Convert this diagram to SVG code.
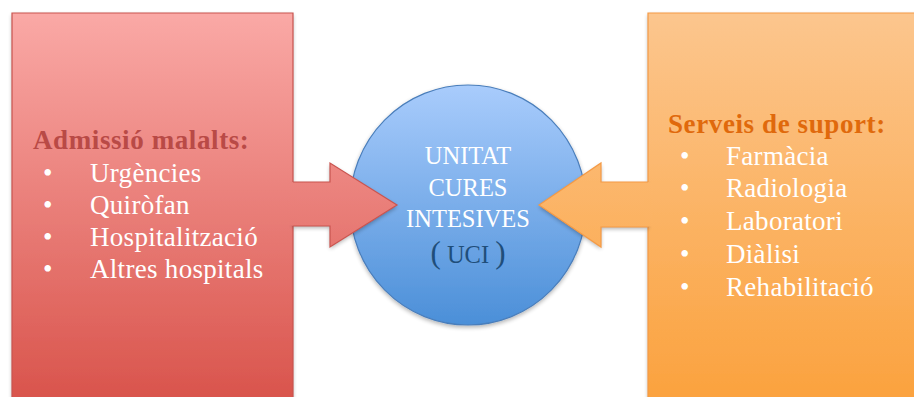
<svg xmlns="http://www.w3.org/2000/svg" width="914" height="397" viewBox="0 0 914 397">
<defs>
<linearGradient id="gRed" gradientUnits="userSpaceOnUse" x1="0" y1="12" x2="0" y2="400">
<stop offset="0" stop-color="#faa9a6"/><stop offset="1" stop-color="#d9544c"/>
</linearGradient>
<linearGradient id="gOrange" gradientUnits="userSpaceOnUse" x1="0" y1="12" x2="0" y2="400">
<stop offset="0" stop-color="#fcc68e"/><stop offset="1" stop-color="#fba23e"/>
</linearGradient>
<linearGradient id="gBlue" x1="0" y1="0" x2="0" y2="1">
<stop offset="0" stop-color="#a9ccfc"/><stop offset="1" stop-color="#4b8fd8"/>
</linearGradient>
<filter id="sh" x="-20%" y="-20%" width="140%" height="140%">
<feGaussianBlur in="SourceAlpha" stdDeviation="2"/>
<feOffset dx="0" dy="2" result="b"/>
<feComponentTransfer><feFuncA type="linear" slope="0.3"/></feComponentTransfer>
<feMerge><feMergeNode/><feMergeNode in="SourceGraphic"/></feMerge>
</filter>
</defs>
<style>
.t{font-family:"Liberation Serif","Times New Roman",serif;fill:#ffffff;font-size:27px;letter-spacing:0.3px}
.h{font-family:"Liberation Serif","Times New Roman",serif;font-weight:bold;font-size:27px;letter-spacing:0.6px}
.c{font-family:"Liberation Serif","Times New Roman",serif;fill:#ffffff;font-size:24.5px;text-anchor:middle}
.p{font-size:31px}
</style>
<g id="node-admissio">
<rect x="12" y="13" width="281" height="390" fill="url(#gRed)" filter="url(#sh)"/>
<path d="M12,400 V13 H293 V182 M293,226 V400" fill="none" stroke="#c9544f" stroke-width="1.2"/>
<text class="h" x="33" y="149" fill="#b94a46">Admissió malalts:</text>
<g class="t">
<text x="43" y="182">•</text><text x="90" y="182">Urgències</text>
<text x="43" y="214">•</text><text x="90" y="214">Quiròfan</text>
<text x="43" y="246">•</text><text x="90" y="246">Hospitalització</text>
<text x="43" y="278">•</text><text x="90" y="278">Altres hospitals</text>
</g>
</g>
<g id="node-serveis">
<rect x="648" y="13" width="270" height="390" fill="url(#gOrange)" filter="url(#sh)"/>
<path d="M916,13 H648 V182 M648,227 V400" fill="none" stroke="#f59a45" stroke-width="1.2"/>
<text class="h" x="668" y="133" fill="#e0690c">Serveis de suport:</text>
<g class="t">
<text x="680" y="165">•</text><text x="726" y="165">Farmàcia</text>
<text x="680" y="197">•</text><text x="726" y="197">Radiologia</text>
<text x="680" y="230">•</text><text x="726" y="230">Laboratori</text>
<text x="680" y="263">•</text><text x="726" y="263">Diàlisi</text>
<text x="680" y="296">•</text><text x="726" y="296">Rehabilitació</text>
</g>
</g>
<g id="node-uci">
<ellipse cx="468" cy="205" rx="118" ry="120" fill="url(#gBlue)" stroke="#4a7ebb" stroke-width="1.2" filter="url(#sh)"/>
</g>
<g id="connectors">
<g id="arrow-left">
<polygon points="293,182 330,182 330,163 397,205 330,247 330,226 293,226" fill="url(#gRed)" filter="url(#sh)"/>
<rect x="289" y="182.6" width="8" height="42.8" fill="url(#gRed)"/>
<path d="M293,182 H330 V163 L397,205 L330,247 V226 H293" fill="none" stroke="#c9544f" stroke-width="1.2"/>
</g>
<g id="arrow-right">
<polygon points="648,182 601,182 601,163 539,205 601,247 601,227 648,227" fill="url(#gOrange)" filter="url(#sh)"/>
<rect x="644" y="182.6" width="8" height="43.8" fill="url(#gOrange)"/>
<path d="M648,182 H601 V163 L539,205 L601,247 V227 H648" fill="none" stroke="#f59a45" stroke-width="1.2"/>
</g>
</g>
<g id="uci-label">
<text class="c" x="468" y="164">UNITAT</text>
<text class="c" x="468" y="196">CURES</text>
<text class="c" x="468" y="227">INTESIVES</text>
<text class="c" x="468" y="263" style="fill:#1f4e7a"><tspan class="p">(</tspan> UCI <tspan class="p">)</tspan></text>
</g>
</svg>
